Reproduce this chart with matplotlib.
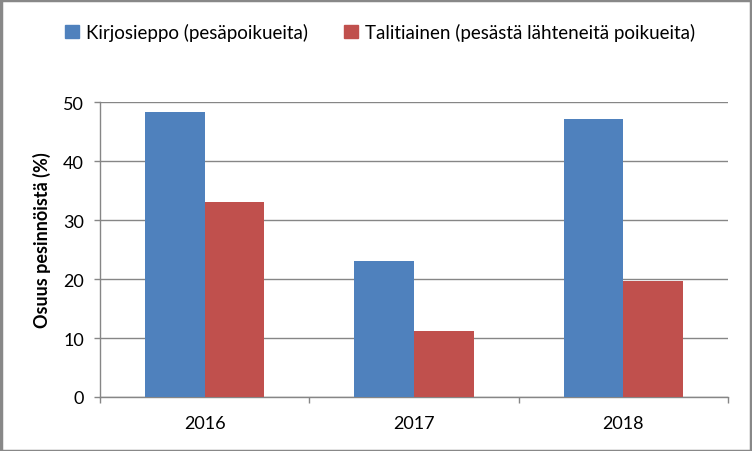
import matplotlib
matplotlib.use("Agg")
import matplotlib.pyplot as plt
from matplotlib.patches import Rectangle, Patch
import numpy as np

years = ["2016", "2017", "2018"]
kirjosieppo = [48.3, 23.1, 47.2]
talitiainen = [33.1, 11.2, 19.7]
series_labels = ["Kirjosieppo (pesäpoikueita)", "Talitiainen (pesästä lähteneitä poikueita)"]
colors = ["#4F81BD", "#C0504D"]

plt.rcParams['font.family'] = ['Lato', 'DejaVu Sans']

W, H = 752, 452
fig = plt.figure(figsize=(W/100, H/100), dpi=100)
ax = fig.add_axes([100/W, 1-398/H, 628/W, (398-103.3)/H])

x = np.arange(len(years))
bw = 1/3.5
ax.bar(x - bw/2, kirjosieppo, bw, color=colors[0], zorder=3)
ax.bar(x + bw/2, talitiainen, bw, color=colors[1], zorder=3)

ax.set_xlim(-0.5, len(years)-0.5)
ax.set_ylim(0, 50)
ax.set_yticks(range(0, 51, 10))
ax.set_xticks(x)
ax.set_xticklabels(years)
ax.set_xticks(np.arange(-0.5, len(years)+0.5, 1), minor=True)
ax.tick_params(axis='x', which='major', length=0, pad=13, labelsize=13, colors='black')
ax.tick_params(axis='x', which='minor', length=4.5, color='#868686', width=1)
ax.tick_params(axis='y', length=4.5, color='#868686', width=1, labelsize=13, pad=7)

ax.yaxis.grid(True, color='#868686', linewidth=1)
ax.set_axisbelow(True)
for s in ['top', 'right']:
    ax.spines[s].set_visible(False)
for s in ['left', 'bottom']:
    ax.spines[s].set_color('#868686')
    ax.spines[s].set_linewidth(1)

fig.text(42/W, 1-240/H, "Osuus pesinnöistä (%)", rotation=90, ha='center', va='center',
         fontsize=13, fontweight='bold')

handles = [Patch(color=c) for c in colors]
fig.legend(handles, series_labels, loc='center', bbox_to_anchor=(380/W, 1-33/H),
           ncol=2, frameon=False, fontsize=13.5, handlelength=0.75, handleheight=0.75,
           handletextpad=0.4, columnspacing=1.9)

fig.patches.append(Rectangle((0.5/W, 0.5/H), (W-1.5)/W, (H-1.5)/H, transform=fig.transFigure,
                             fill=False, edgecolor='#888888', linewidth=2.5))

fig.savefig("out.png", dpi=100)
